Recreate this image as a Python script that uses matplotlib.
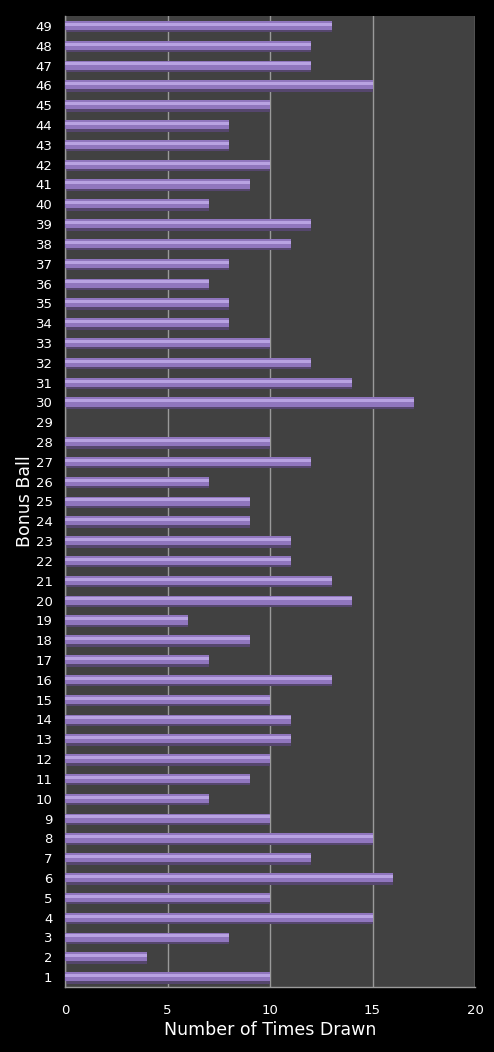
import matplotlib
matplotlib.use("Agg")
import matplotlib.pyplot as plt
import numpy as np

# bonus ball numbers and how often each was drawn
balls = list(range(1, 50))
times_drawn = [10, 4, 8, 15, 10, 16, 12, 15, 10, 7,
               9, 10, 11, 11, 10, 13, 7, 9, 6, 14,
               13, 11, 11, 9, 9, 7, 12, 10, 0, 17,
               14, 12, 10, 8, 8, 7, 8, 11, 12, 7,
               9, 10, 8, 8, 10, 15, 12, 12, 13]
x_ticks = [0, 5, 10, 15, 20]

BAR_MAIN = "#9076be"
BAR_LIGHT = "#b8a2e2"
BAR_DARK = "#55466d"
PLOT_BG = "#414141"
GRID = "#9a9a9a"

fig = plt.figure(figsize=(4.94, 10.52), dpi=100, facecolor="black")
ax = fig.add_axes([0.1316, 0.0618, 0.83, 0.923])
ax.set_facecolor(PLOT_BG)

y = np.array(balls)
vals = np.array(times_drawn)
h = 0.54

# shadow underneath, main body, then a highlight stripe for the 3d look
ax.barh(y - 0.06, vals, height=h, color=BAR_DARK, zorder=2)
ax.barh(y + 0.02, vals, height=h * 0.85, color=BAR_MAIN, zorder=3)
ax.barh(y + 0.08, vals, height=h * 0.28, color=BAR_LIGHT, zorder=4)

ax.set_xlim(0, 20)
ax.set_ylim(0.5, 49.5)
ax.set_xticks(x_ticks)
ax.set_yticks(balls)
ax.set_yticklabels([str(b) for b in balls])

ax.xaxis.grid(True, color=GRID, linewidth=1)
ax.set_axisbelow(True)

for side in ["top", "right"]:
    ax.spines[side].set_visible(False)
for side in ["left", "bottom"]:
    ax.spines[side].set_color(GRID)
    ax.spines[side].set_linewidth(1)

ax.tick_params(axis="both", length=0, colors="white", labelsize=9.5)
ax.tick_params(axis="y", pad=9)
ax.tick_params(axis="x", pad=12)

ax.set_xlabel("Number of Times Drawn", color="white", fontsize=12.5, labelpad=3)
ax.set_ylabel("Bonus Ball", color="white", fontsize=12.5, labelpad=1)

fig.savefig("out.png", dpi=100, facecolor="black")
